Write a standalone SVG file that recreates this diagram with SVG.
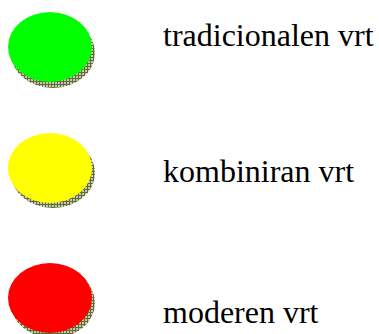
<svg xmlns="http://www.w3.org/2000/svg" width="379" height="334" viewBox="0 0 379 334">
<style>
.lbl{font-family:"Liberation Serif","Times New Roman",serif;font-size:32px;fill:#000}
.sh{fill:url(#hatch)}
</style>
<defs>
<pattern id="hatch" width="3" height="3" patternUnits="userSpaceOnUse">
<rect width="3" height="3" fill="#c4caa4"/>
<path d="M0 0.5H3M0.5 0V3" stroke="#5f6b3c" stroke-width="1"/>
</pattern>
</defs>
<rect width="379" height="334" fill="#fff"/>
<g id="node-green">
<ellipse class="sh" cx="53" cy="53" rx="42" ry="35"/>
<ellipse cx="50" cy="47" rx="42" ry="35" fill="#00ff00"/>
<text class="lbl" x="163" y="46">tradicionalen vrt</text>
</g>
<g id="node-yellow">
<ellipse class="sh" cx="53" cy="173" rx="42" ry="35"/>
<ellipse cx="50" cy="168" rx="42" ry="35" fill="#ffff00"/>
<text class="lbl" x="163" y="182">kombiniran vrt</text>
</g>
<g id="node-red">
<ellipse class="sh" cx="53" cy="303" rx="42" ry="35"/>
<ellipse cx="50" cy="298" rx="42" ry="35" fill="#ff0000"/>
<text class="lbl" x="163" y="323">moderen vrt</text>
</g>
<g id="connectors"></g>
</svg>
